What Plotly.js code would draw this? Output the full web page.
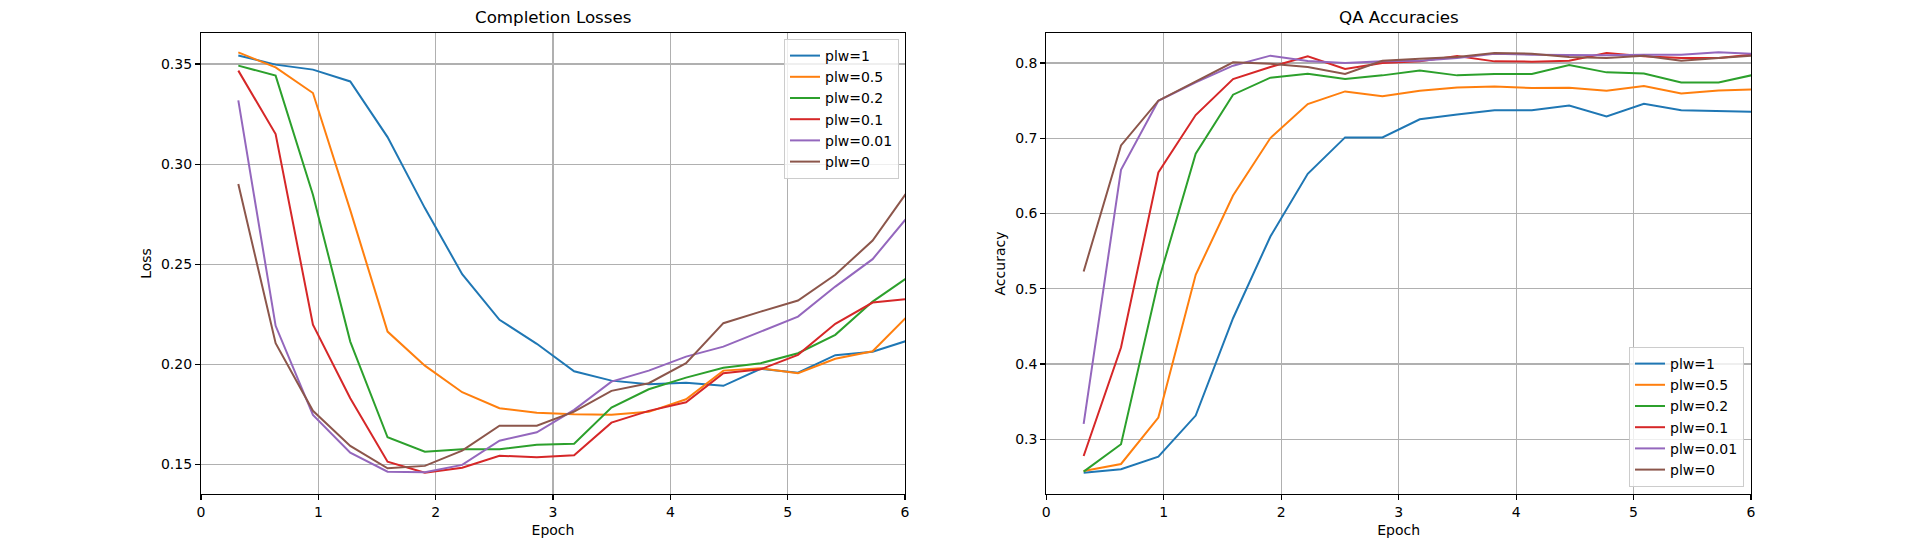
<!DOCTYPE html>
<html>
<head>
<meta charset="utf-8">
<script src="https://cdn.plot.ly/plotly-3.0.1.min.js"></script>
<style>
  html, body { margin: 0; padding: 0; background: #ffffff; }
  #chart { width: 1914px; height: 542px; }
</style>
</head>
<body>
<div id="chart"></div>
<script>
// ---- data ----
const epochs = [0.318, 0.636, 0.954, 1.272, 1.59, 1.908, 2.226, 2.544, 2.862, 3.18,
                3.498, 3.816, 4.134, 4.452, 4.77, 5.088, 5.406, 5.724, 6.042];

const seriesNames = ["plw=1", "plw=0.5", "plw=0.2", "plw=0.1", "plw=0.01", "plw=0"];
const seriesColors = ["#1f77b4", "#ff7f0e", "#2ca02c", "#d62728", "#9467bd", "#8c564b"];

// Completion losses
const loss_plw1   = [0.3543, 0.3497, 0.3472, 0.3413, 0.3135, 0.2780, 0.2450, 0.2222, 0.2102, 0.1965,
                     0.1918, 0.1900, 0.1908, 0.1892, 0.1977, 0.1958, 0.2045, 0.2062, 0.2122];
const loss_plw05  = [0.3558, 0.3483, 0.3355, 0.2770, 0.2163, 0.1993, 0.1860, 0.1780, 0.1758, 0.1750,
                     0.1748, 0.1762, 0.1825, 0.1968, 0.1980, 0.1955, 0.2027, 0.2065, 0.2253];
const loss_plw02  = [0.3492, 0.3442, 0.2847, 0.2113, 0.1635, 0.1563, 0.1575, 0.1575, 0.1597, 0.1603,
                     0.1783, 0.1875, 0.1933, 0.1982, 0.2005, 0.2055, 0.2147, 0.2313, 0.2442];
const loss_plw01  = [0.3467, 0.3150, 0.2197, 0.1830, 0.1513, 0.1458, 0.1483, 0.1543, 0.1535, 0.1545,
                     0.1708, 0.1767, 0.1810, 0.1955, 0.1975, 0.2047, 0.2202, 0.2308, 0.2327];
const loss_plw001 = [0.3318, 0.2192, 0.1747, 0.1558, 0.1463, 0.1460, 0.1497, 0.1618, 0.1660, 0.1772,
                     0.1913, 0.1968, 0.2038, 0.2088, 0.2163, 0.2238, 0.2388, 0.2525, 0.2750];
const loss_plw0   = [0.2900, 0.2105, 0.1767, 0.1592, 0.1480, 0.1492, 0.1568, 0.1693, 0.1693, 0.1763,
                     0.1867, 0.1905, 0.2005, 0.2205, 0.2263, 0.2318, 0.2447, 0.2618, 0.2880];

// QA accuracies
const acc_plw1   = [0.2557, 0.2601, 0.2770, 0.3315, 0.4609, 0.5695, 0.6528, 0.7012, 0.7012, 0.7253,
                    0.7316, 0.7373, 0.7373, 0.7436, 0.7289, 0.7458, 0.7373, 0.7364, 0.7351];
const acc_plw05  = [0.2579, 0.2672, 0.3288, 0.5186, 0.6240, 0.7003, 0.7455, 0.7623, 0.7557, 0.7631,
                    0.7676, 0.7689, 0.7667, 0.7671, 0.7631, 0.7693, 0.7596, 0.7636, 0.7649];
const acc_plw02  = [0.2570, 0.2934, 0.5097, 0.6794, 0.7579, 0.7805, 0.7858, 0.7787, 0.7836, 0.7902,
                    0.7836, 0.7853, 0.7853, 0.7973, 0.7876, 0.7862, 0.7742, 0.7742, 0.7850];
const acc_plw01  = [0.2778, 0.4219, 0.6546, 0.7309, 0.7787, 0.7947, 0.8089, 0.7920, 0.8000, 0.8022,
                    0.8093, 0.8022, 0.8018, 0.8031, 0.8133, 0.8089, 0.8067, 0.8067, 0.8116];
const acc_plw001 = [0.3204, 0.6582, 0.7499, 0.7743, 0.7965, 0.8098, 0.8027, 0.8000, 0.8022, 0.8031,
                    0.8067, 0.8124, 0.8111, 0.8102, 0.8102, 0.8111, 0.8111, 0.8142, 0.8120];
const acc_plw0   = [0.5230, 0.6905, 0.7499, 0.7756, 0.8009, 0.7991, 0.7947, 0.7854, 0.8031, 0.8058,
                    0.8080, 0.8133, 0.8124, 0.8080, 0.8067, 0.8098, 0.8031, 0.8067, 0.8102];

const xTickVals = [0, 1, 2, 3, 4, 5, 6];
const lossTickVals = [0.15, 0.20, 0.25, 0.30, 0.35];
const accTickVals = [0.3, 0.4, 0.5, 0.6, 0.7, 0.8];

const titles = ["Completion Losses", "QA Accuracies"];

// ---- build traces ----
const lossSeries = [loss_plw1, loss_plw05, loss_plw02, loss_plw01, loss_plw001, loss_plw0];
const accSeries = [acc_plw1, acc_plw05, acc_plw02, acc_plw01, acc_plw001, acc_plw0];

const traces = [];
lossSeries.forEach((ys, k) => {
  traces.push({
    type: "scatter", mode: "lines", x: epochs, y: ys, name: seriesNames[k],
    line: {color: seriesColors[k], width: 2}, xaxis: "x", yaxis: "y", legend: "legend"
  });
});
accSeries.forEach((ys, k) => {
  traces.push({
    type: "scatter", mode: "lines", x: epochs, y: ys, name: seriesNames[k],
    line: {color: seriesColors[k], width: 2}, xaxis: "x2", yaxis: "y2", legend: "legend2"
  });
});

const FONT = "DejaVu Sans, Verdana, sans-serif";
const W = 1914, H = 542;
const xd1 = [201 / W, 905 / W];
const xd2 = [1046.3 / W, 1751 / W];
const yd = [1 - 494 / H, 1 - 33 / H];

function axisCommon() {
  return {
    showline: true, linecolor: "#000000", linewidth: 1.1, mirror: true,
    showgrid: true, gridcolor: "#b0b0b0", gridwidth: 1.1,
    zeroline: false, ticks: "outside", ticklen: 5, tickwidth: 1.1, tickcolor: "#000000",
    tickfont: {family: FONT, size: 14, color: "#000000"},
    automargin: false
  };
}

const layout = {
  width: W, height: H,
  margin: {l: 0, r: 0, t: 0, b: 0},
  paper_bgcolor: "#ffffff", plot_bgcolor: "#ffffff",
  font: {family: FONT, size: 14, color: "#000000"},
  showlegend: true,
  xaxis: Object.assign(axisCommon(), {
    domain: xd1, anchor: "y", range: [0, 6], tickvals: xTickVals, ticktext: xTickVals.map(String),
    title: {text: "Epoch", font: {family: FONT, size: 14}, standoff: 6}
  }),
  yaxis: Object.assign(axisCommon(), {
    domain: yd, anchor: "x", range: [0.13515, 0.3655], tickvals: lossTickVals,
    ticktext: lossTickVals.map(v => v.toFixed(2)),
    title: {text: "Loss", font: {family: FONT, size: 14}, standoff: 6}
  }),
  xaxis2: Object.assign(axisCommon(), {
    domain: xd2, anchor: "y2", range: [0, 6], tickvals: xTickVals, ticktext: xTickVals.map(String),
    title: {text: "Epoch", font: {family: FONT, size: 14}, standoff: 6}
  }),
  yaxis2: Object.assign(axisCommon(), {
    domain: yd, anchor: "x2", range: [0.2273, 0.8399], tickvals: accTickVals,
    ticktext: accTickVals.map(v => v.toFixed(1)),
    title: {text: "Accuracy", font: {family: FONT, size: 14}, standoff: 6}
  }),
  legend: {
    x: 899 / W, xanchor: "right", y: 1 - 39 / H, yanchor: "top",
    bgcolor: "rgba(255,255,255,0.8)", bordercolor: "#cccccc", borderwidth: 1,
    font: {family: FONT, size: 14, color: "#000000"}, tracegroupgap: 0
  },
  legend2: {
    x: 1744 / W, xanchor: "right", y: 1 - 487 / H, yanchor: "bottom",
    bgcolor: "rgba(255,255,255,0.8)", bordercolor: "#cccccc", borderwidth: 1,
    font: {family: FONT, size: 14, color: "#000000"}, tracegroupgap: 0
  },
  annotations: [
    {text: titles[0], xref: "paper", yref: "paper", x: (xd1[0] + xd1[1]) / 2, y: 1 - 17 / H,
     xanchor: "center", yanchor: "middle", showarrow: false,
     font: {family: FONT, size: 16.7, color: "#000000"}},
    {text: titles[1], xref: "paper", yref: "paper", x: (xd2[0] + xd2[1]) / 2, y: 1 - 17 / H,
     xanchor: "center", yanchor: "middle", showarrow: false,
     font: {family: FONT, size: 16.7, color: "#000000"}}
  ]
};

Plotly.newPlot("chart", traces, layout, {staticPlot: true, displayModeBar: false});
</script>
</body>
</html>
